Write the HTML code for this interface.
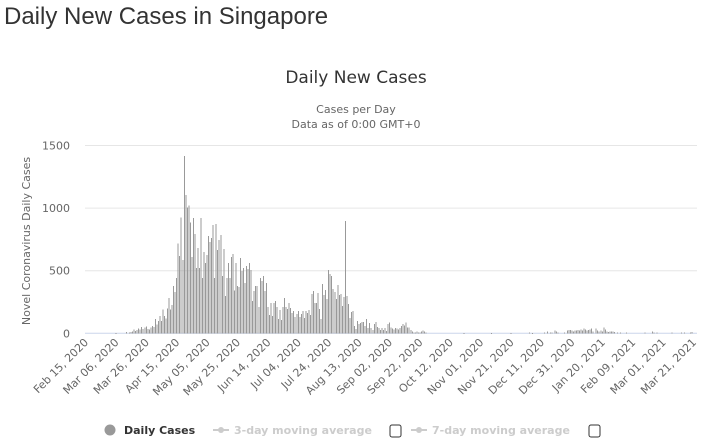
<!DOCTYPE html>
<html><head><meta charset="utf-8"><style>
body{margin:0;background:#fff;width:707px;height:447px;overflow:hidden;font-family:"Liberation Sans",sans-serif}
h1{position:absolute;left:4px;top:3px;margin:0;font-weight:normal;font-size:24px;color:#333}
</style></head><body>
<h1>Daily New Cases in Singapore</h1>
<svg id="c" width="707" height="447" style="position:absolute;left:0;top:0" font-family="DejaVu Sans, sans-serif">
<text x="356" y="83" text-anchor="middle" font-size="17" fill="#333">Daily New Cases</text>
<text x="356" y="113" text-anchor="middle" font-size="11" fill="#666">Cases per Day</text>
<text x="356" y="128" text-anchor="middle" font-size="11" fill="#666">Data as of 0:00 GMT+0</text>
<text transform="translate(30,241) rotate(-90)" text-anchor="middle" font-size="11" fill="#666">Novel Coronavirus Daily Cases</text>
<g id="grid"></g><g id="bars" shape-rendering="crispEdges"></g><g id="xl"></g>
<g font-size="11" font-weight="bold">
<g><circle cx="110" cy="430" r="5.5" fill="#999"/><text x="124" y="434" fill="#333">Daily Cases</text></g>
<g><line x1="213" y1="430" x2="229" y2="430" stroke="#ccc" stroke-width="2"/><circle cx="221" cy="430" r="3" fill="#ccc"/><text x="234" y="434" fill="#ccc">3-day moving average</text><rect x="390" y="425" width="11" height="12" rx="2" fill="#fff" stroke="#333"/></g>
<g><line x1="411" y1="430" x2="427" y2="430" stroke="#ccc" stroke-width="2"/><circle cx="419" cy="430" r="3" fill="#ccc"/><text x="432" y="434" fill="#ccc">7-day moving average</text><rect x="589" y="425" width="11" height="12" rx="2" fill="#fff" stroke="#333"/></g>
</g>
</svg>
<script>
const yTicks=[0,500,1000,1500];
const xTickLabels=["Feb 15, 2020","Mar 06, 2020","Mar 26, 2020","Apr 15, 2020","May 05, 2020","May 25, 2020","Jun 14, 2020","Jul 04, 2020","Jul 24, 2020","Aug 13, 2020","Sep 02, 2020","Sep 22, 2020","Oct 12, 2020","Nov 01, 2020","Nov 21, 2020","Dec 11, 2020","Dec 31, 2020","Jan 20, 2021","Feb 09, 2021","Mar 01, 2021","Mar 21, 2021"];
const dailyCases=[0,0,0,0,0,0,0,0,0,0,0,0,0,0,0,0,0,0,0,2,0,0,0,0,0,0,
10,0,8,12,15,30,20,25,40,30,50,35,45,55,35,30,45,60,50,115,70,100,140,100,190,140,120,200,280,
190,226,378,330,442,718,617,925,585,1415,
1104,1005,1021,886,609,920,793,521,681,521,920,442,649,561,625,777,729,761,864,442,872,665,745,785,458,673,298,442,561,442,609,633,340,561,378,370,601,497,521,402,537,513,561,505,258,338,378,378,210,442,418,458,338,402,210,146,242,138,242,258,210,114,186,106,210,282,210,194,242,202,162,178,130,154,178,130,154,178,122,178,162,186,146,314,338,242,242,322,194,114,394,306,346,274,505,473,458,354,330,274,386,306,314,218,290,897,298,234,122,170,178,58,35,98,74,82,90,90,58,114,42,82,42,27,74,90,50,42,27,42,27,42,19,
74,88,48,37,32,43,37,32,43,58,74,64,85,48,48,27,16,8,8,16,8,8,16,21,16,8,
0,0,0,0,0,0,0,0,0,0,0,0,0,0,0,0,0,0,0,0,0,0,0,0,4,
0,0,0,0,0,0,0,0,0,0,0,0,0,0,0,0,0,4,
0,0,0,0,0,0,0,0,0,0,0,0,4,
0,0,0,0,0,0,0,0,0,0,0,5,0,4,0,0,0,0,0,0,0,8,0,16,0,8,8,0,24,16,8,0,0,0,8,0,
21,27,27,21,16,24,21,27,21,32,21,37,32,21,27,32,37,13,0,40,24,13,24,16,48,29,16,11,16,16,16,11,0,8,0,8,0,0,0,8,
0,0,0,0,0,0,0,0,0,0,0,8,0,0,0,0,16,8,0,8,0,0,0,0,0,0,0,0,0,8,0,0,0,0,0,8,0,8,0,0,0,8,10];
const NS='http://www.w3.org/2000/svg';
const X0=87,DX=1.52,Y0=333.3,YS=(333.3-145.5)/1500,L=85,R=697;
const xs=d=>X0+d*DX, ys=v=>Y0-v*YS;
const grid=document.getElementById('grid');
yTicks.forEach(t=>{
 const ln=document.createElementNS(NS,'line');
 
 
 ln.setAttribute('x1',L);ln.setAttribute('x2',R);ln.setAttribute('y1',ys(t));ln.setAttribute('y2',ys(t));
 ln.setAttribute('stroke',t===0?'#ccd6eb':'#e6e6e6');grid.appendChild(ln);
 const tx=document.createElementNS(NS,'text');
 
 
 tx.setAttribute('x',70);tx.setAttribute('y',ys(t)+4);tx.setAttribute('text-anchor','end');
 tx.setAttribute('font-size','11');tx.setAttribute('fill','#666');tx.textContent=t;grid.appendChild(tx);
});
const bars=document.getElementById('bars');
dailyCases.forEach((v,i)=>{
 if(v<=0)return;
 const r=document.createElementNS(NS,'rect');
 
 
 r.setAttribute('x',xs(i)-0.5);r.setAttribute('width',1);
 r.setAttribute('y',ys(v));r.setAttribute('height',Math.max(Y0-ys(v),1));
 r.setAttribute('fill','#999');bars.appendChild(r);
});
const xl=document.getElementById('xl');
xTickLabels.forEach((s,i)=>{
 const x=xs(i*20);
 const tx=document.createElementNS(NS,'text');
 
 
 tx.setAttribute('transform','translate('+(x+2)+',343) rotate(-45)');
 tx.setAttribute('text-anchor','end');tx.setAttribute('font-size','11');tx.setAttribute('fill','#666');
 tx.textContent=s;xl.appendChild(tx);
});
</script>
</body></html>
